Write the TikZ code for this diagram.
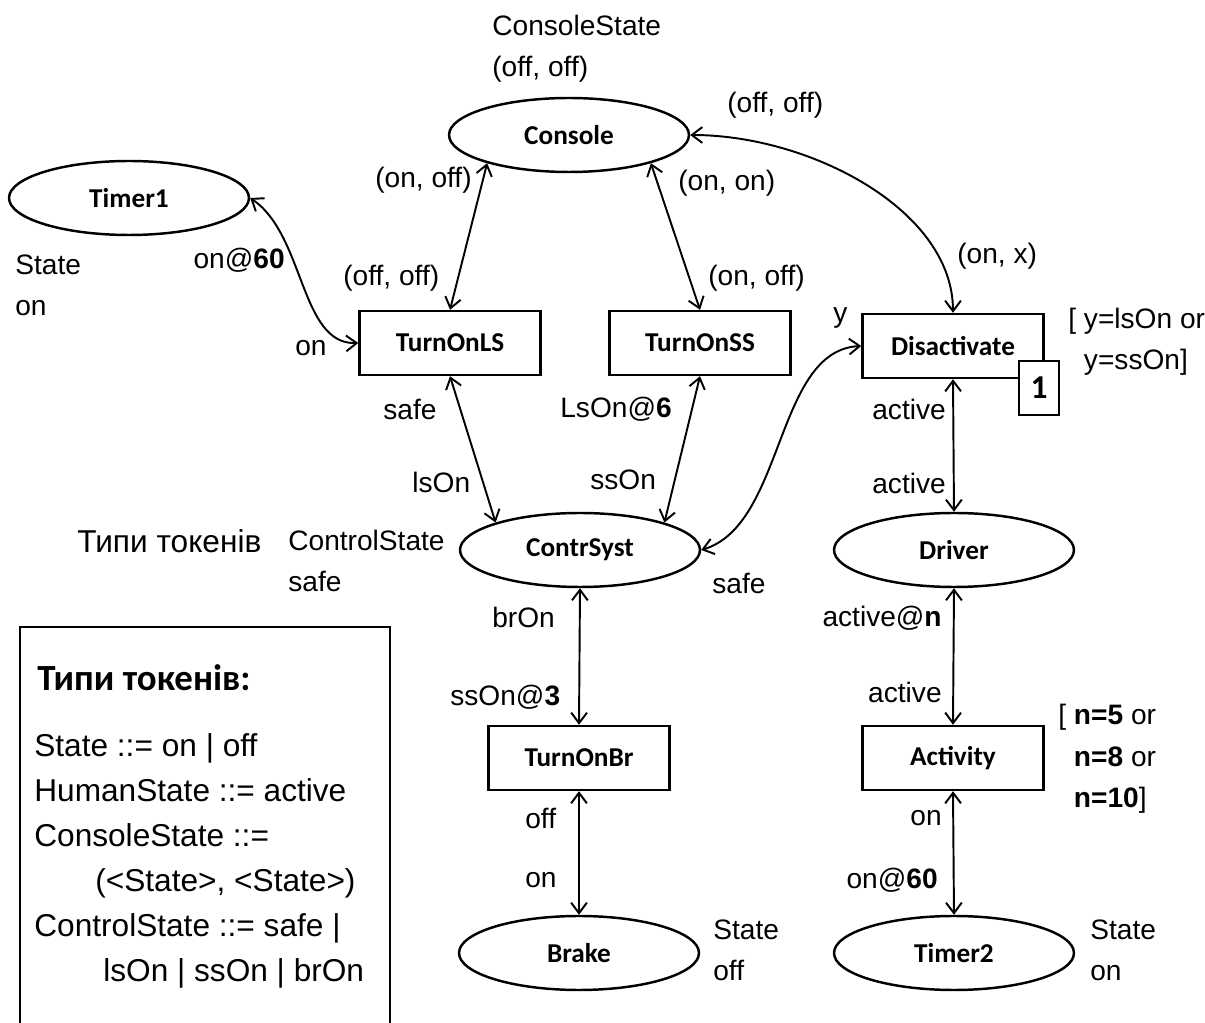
\documentclass[tikz,border=0pt]{standalone}
\usepackage{fontspec}
\setmainfont{Liberation Sans}
\newfontfamily\placefont{Carlito}
\usetikzlibrary{shapes.geometric,arrows.meta}

\begin{document}
\begin{tikzpicture}[x=0.02cm, y=-0.02cm,
  placenode/.style={draw, ellipse, line width=1.4pt, minimum width=4.8cm, minimum height=1.48cm, inner sep=0pt,
    font=\placefont\bfseries\fontsize{15.5}{18}\selectfont},
  transnode/.style={draw, rectangle, line width=1.4pt, minimum width=3.62cm, minimum height=1.28cm, inner sep=0pt,
    font=\placefont\bfseries\fontsize{15.5}{18}\selectfont},
  lbl/.style={inner sep=0pt, anchor=west, align=left, font=\fontsize{16}{23.5}\selectfont},
  lblr/.style={lbl, anchor=east},
  flow/.style={<->, line width=1.1pt},
  >={Straight Barb[length=6pt,width=9pt]}]

\useasboundingbox (0,0) rectangle (1205,1023);

% places
\node [placenode] (Console)   at (569,135) {Console};
\node [placenode] (Timer1)    at (129,198) {Timer1};
\node [placenode] (ContrSyst) at (580,550) {ContrSyst};
\node [placenode] (Driver)    at (954,550) {Driver};
\node [placenode] (Brake)     at (579,953) {Brake};
\node [placenode] (Timer2)    at (954,953) {Timer2};

% transitions
\node [transnode] (TurnOnLS)    at (450,343) {TurnOnLS};
\node [transnode] (TurnOnSS)    at (700,343) {TurnOnSS};
\node [transnode] (Disactivate) at (953,346) {Disactivate};
\node [transnode] (TurnOnBr)    at (579,758) {TurnOnBr};
\node [transnode] (Activity)    at (953,758) {Activity};
\node [draw, fill=white, line width=1.4pt, minimum width=0.8cm, minimum height=1.08cm, inner sep=0pt,
       font=\placefont\bfseries\fontsize{19}{20}\selectfont] (prio) at (1039,388) {1};

% arcs
\draw [flow] (Timer1.east) .. controls (305,235) and (300,345) .. (TurnOnLS.west);
\draw [flow] (Console.199) -- (TurnOnLS.north);
\draw [flow] (Console.341) -- (TurnOnSS.north);
\draw [flow] (Console.east) .. controls (810,135) and (953,210) .. (Disactivate.north);
\draw [flow] (TurnOnLS.south) -- (ContrSyst.162);
\draw [flow] (TurnOnSS.south) -- (ContrSyst.18);
\draw [flow] (ContrSyst.east) .. controls (785,525) and (775,350) .. (Disactivate.west);
\draw [flow] (Disactivate.south) -- (Driver.north);
\draw [flow] (ContrSyst.south) -- (TurnOnBr.north);
\draw [flow] (Driver.south) -- (Activity.north);
\draw [flow] (TurnOnBr.south) -- (Brake.north);
\draw [flow] (Activity.south) -- (Timer2.north);

% -------- arc labels -----------
\node [lbl]  (lOffOff1) at (727,105) {(off, off)};
\node [lblr] (lOnOff1)  at (472,180) {(on, off)};
\node [lbl]  (lOnOn)    at (678,183) {(on, on)};
\node [lblr] (lOn60a)   at (285,260) {on@\textbf{60}};
\node [lbl]  (lOffOff2) at (343,278) {(off, off)};
\node [lbl]  (lOnOff2)  at (708,278) {(on, off)};
\node [lbl]  (lOnX)     at (957,256) {(on, x)};
\node [lbl]  (lOn1)     at (295,348) {on};
\node [lbl]  (lY)       at (833,318) {y};
\node [lbl]  (lSafe1)   at (383,409) {safe};
\node [lbl]  (lLsOn6)   at (560,409) {LsOn@\textbf{6}};
\node [lbl]  (lActive1) at (872,409) {active};
\node [lbl]  (lLsOn)    at (412,482) {lsOn};
\node [lbl]  (lSsOn)    at (590,480) {ssOn};
\node [lbl]  (lActive2) at (872,483) {active};
\node [lbl]  (lSafe2)   at (712,583) {safe};
\node [lbl]  (lBrOn)    at (492,617) {brOn};
\node [lblr] (lActiveN) at (942,618) {active@\textbf{n}};
\node [lbl]  (lSsOn3)   at (450,697) {ssOn@\textbf{3}};
\node [lblr] (lActive3) at (942,692) {active};
\node [lbl]  (lOff)     at (525,818) {off};
\node [lblr] (lOn2)     at (942,818) {on};
\node [lbl]  (lOn3)     at (525,880) {on};
\node [lblr] (lOn60b)   at (938,880) {on@\textbf{60}};

% -------- guards -----------
\node [lbl] (gDis) at (1068,342) {[ y=lsOn or\\\phantom{[ }y=ssOn]};
\node [lbl] (gAct) at (1058,759) {[ \textbf{n=5} or\\\phantom{[ }\textbf{n=8} or\\\phantom{[ }\textbf{n=10}]};

% -------- colour sets and initial markings -----------
\node [lbl] (tConsole) at (492,49)  {ConsoleState\\(off, off)};
\node [lbl] (tTimer1)  at (15,285)  {State\\on};
\node [lbl, font=\fontsize{18}{20}\selectfont] (tHint) at (77,541) {Типи токенів};
\node [lbl] (tContr)   at (288,561) {ControlState\\safe};
\node [lbl] (tBrake)   at (713,950) {State\\off};
\node [lbl] (tTimer2)  at (1090,950) {State\\on};

% -------- legend -----------
\draw [line width=0.6pt] (20,1030) -- (20,627) -- (390,627) -- (390,1030);
\node [lbl, font=\placefont\bfseries\fontsize{21}{24}\selectfont] (legTitle) at (37,678) {Типи токенів:};
\node [lbl, font=\fontsize{18}{25.6}\selectfont] (legBody) at (34,861) {State ::= on | off\\
  HumanState ::= active\\
  ConsoleState ::=\\
  \hspace*{1.22cm}(<State>, <State>)\\
  ControlState ::= safe |\\
  \hspace*{1.38cm}lsOn | ssOn | brOn};
\end{tikzpicture}
\end{document}
